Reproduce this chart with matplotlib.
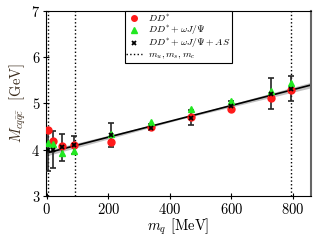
import numpy as np
import matplotlib
matplotlib.use("Agg")
import matplotlib.pyplot as plt

plt.rcParams['font.family'] = 'serif'
plt.rcParams['font.serif'] = ['cmr10', 'DejaVu Serif']
plt.rcParams['mathtext.fontset'] = 'cm'
plt.rcParams['axes.formatter.use_mathtext'] = True

# quark masses (MeV)
mq = [5, 20, 50, 90, 210, 340, 470, 600, 730, 795]
# DD*
m_dd = [4.42, 4.18, 4.08, 4.11, 4.16, 4.50, 4.70, 4.88, 5.12, 5.28]
# DD* + omega J/psi
m_ddw = [4.15, 4.12, 3.92, 3.97, 4.35, 4.60, 4.87, 5.05, 5.27, 5.45]
# DD* + omega J/psi + AS
m_all = [4.00, 4.00, 4.05, 4.10, 4.31, 4.48, 4.69, 4.95, 5.21, 5.32]
err_lo = [0.45, 0.40, 0.30, 0.20, 0.26, 0.06, 0.16, 0.10, 0.34, 0.27]
err_hi = [0.45, 0.40, 0.30, 0.20, 0.26, 0.07, 0.16, 0.10, 0.34, 0.28]
# fit line
fit_x = [0, 860]
fit_y = [3.93, 5.40]
band_w = [0.06, 0.015, 0.06]
band_x = [0, 430, 860]
# quark mass lines
vlines = [3, 93, 795]

fig, ax = plt.subplots(figsize=(3.16, 2.42), dpi=100)
fig.subplots_adjust(left=0.145, right=0.985, bottom=0.19, top=0.955)

bx = np.array(band_x)
by = np.interp(bx, fit_x, fit_y)
ax.fill_between(bx, by - np.array(band_w), by + np.array(band_w),
                color='0.6', alpha=0.6, lw=0, zorder=1)
ax.plot(fit_x, fit_y, color='k', lw=1.2, zorder=2)

for v in vlines:
    ax.axvline(v, color='k', ls=':', lw=1.0, zorder=1)

ax.errorbar(mq, m_all, yerr=[err_lo, err_hi], fmt='none', ecolor='0.15',
            elinewidth=1.2, capsize=2.2, capthick=1.2, zorder=3)
ax.plot(mq, m_dd, 'o', color='#ff1a1a', ms=5, ls='none', zorder=4,
        label=r'$DD^{*}$')
ax.plot(mq, m_ddw, '^', color='#22e822', ms=5, ls='none', zorder=5,
        label=r'$DD^{*}+\omega J/\Psi$')
ax.plot(mq, m_all, 'x', color='k', ms=3.5, mew=1.3, ls='none', zorder=6,
        label=r'$DD^{*}+\omega J/\Psi+AS$')
ax.plot([], [], 'k:', lw=1.0, label=r'$m_u, m_s, m_c$')

ax.set_xlim(-3, 860)
ax.set_ylim(3, 7)
ax.set_xticks([0, 200, 400, 600, 800])
ax.set_yticks([3, 4, 5, 6, 7])
ax.tick_params(labelsize=10.5, direction='inout', length=4, width=0.8, pad=2)
ax.set_xlabel(r'$m_q$ [MeV]', fontsize=10.5, labelpad=0)
ax.set_ylabel(r'$M_{cq\bar{q}\bar{c}}$  [GeV]', fontsize=10.5, labelpad=2,
              color='#3a2a1a')
ax.spines['right'].set_color('0.4')
ax.spines['right'].set_linewidth(1.5)

leg = ax.legend(loc='upper center', bbox_to_anchor=(0.5, 1.0), fontsize=7,
                frameon=True, fancybox=False, edgecolor='k', framealpha=1,
                handlelength=1.6, borderpad=0.15, labelspacing=0.02,
                handletextpad=0.7, borderaxespad=0, markerscale=0.8)
leg.get_frame().set_linewidth(0.8)

fig.savefig('out.png', dpi=100)
